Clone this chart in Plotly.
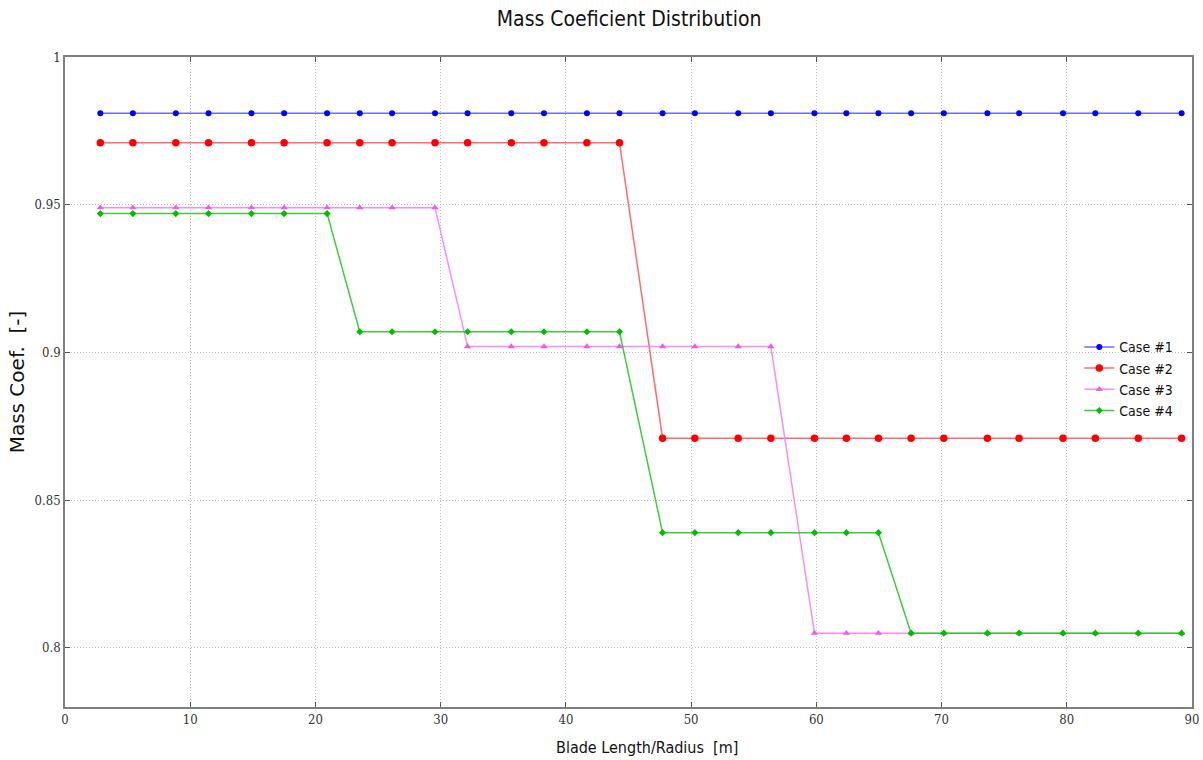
import plotly.graph_objects as go

# Blade stations [m]
radius = [2.82, 5.42, 8.85, 11.46, 14.89, 17.50, 20.93, 23.54, 26.12, 29.55,
          32.15, 35.64, 38.25, 41.68, 44.28, 47.72, 50.30, 53.76, 56.37, 59.85,
          62.40, 64.96, 67.57, 70.18, 73.66, 76.19, 79.70, 82.28, 85.71, 89.17]

case1 = [0.981] * 30
case2 = [0.971] * 15 + [0.871] * 15
case3 = [0.949] * 10 + [0.902] * 9 + [0.805] * 11
case4 = [0.947] * 7 + [0.907] * 8 + [0.839] * 7 + [0.805] * 8

series = [
    ("Case #1", case1, "rgb(0,0,255)", "rgba(70,70,255,0.8)", "circle", 6),
    ("Case #2", case2, "rgb(255,0,0)", "rgba(255,70,70,0.8)", "circle", 7.5),
    ("Case #3", case3, "rgb(238,90,238)", "rgba(245,130,245,0.9)", "triangle-up", 6.5),
    ("Case #4", case4, "rgb(0,190,0)", "rgba(40,200,40,0.9)", "diamond", 5.5),
]

x_ticks = [0, 10, 20, 30, 40, 50, 60, 70, 80, 90]
y_ticks = [0.8, 0.85, 0.9, 0.95, 1.0]
y_labels = ["0.8", "0.85", "0.9", "0.95", "1"]

fig = go.Figure()
for name, vals, mcol, lcol, sym, size in series:
    fig.add_trace(go.Scatter(
        x=radius, y=vals, name=name, mode="lines+markers",
        line=dict(color=lcol, width=1.5),
        marker=dict(color=mcol, symbol=sym, size=size, line=dict(width=0)),
    ))

cond = "DejaVu Sans Condensed, DejaVu Sans, sans-serif"
tickfont = dict(family="DejaVu Serif Condensed, DejaVu Serif, serif", size=13, color="#333333")
grid = dict(showgrid=True, gridcolor="#bdbdbd", griddash="1px,2px", gridwidth=1,
            showline=True, linecolor="#7f7f7f", linewidth=1.5, mirror="ticks",
            ticks="inside", ticklen=5, tickcolor="#555555",
            zeroline=False, tickfont=tickfont, automargin=False)

fig.update_layout(
    width=1203, height=760,
    margin=dict(l=65, r=11, t=57, b=53, autoexpand=False),
    paper_bgcolor="white", plot_bgcolor="white",
    title=dict(text="Mass Coeficient Distribution", x=0.523, xanchor="center",
               y=0.975, yanchor="middle",
               font=dict(family=cond, size=21, color="#111111")),
    showlegend=True,
    legend=dict(x=0.9, y=0.578, xanchor="left", yanchor="top",
                bgcolor="rgba(0,0,0,0)", tracegroupgap=0,
                font=dict(family=cond, size=14, color="#111111")),
    annotations=[dict(text="Blade Length/Radius  [m]", xref="paper", yref="paper",
                      x=0.516, y=-0.062, xanchor="center", yanchor="middle",
                      showarrow=False, font=dict(family=cond, size=16, color="#111111"))],
)

fig.update_xaxes(range=[0, 90], tickvals=x_ticks, ticktext=[str(v) for v in x_ticks], **grid)
fig.update_yaxes(
    range=[0.78, 1.0], tickvals=y_ticks, ticktext=y_labels,
    title=dict(text="Mass Coef.  [-]", standoff=5,
               font=dict(family="DejaVu Sans, sans-serif", size=20, color="#111111")),
    **grid,
)

fig.write_html("out.html", config={"displayModeBar": False})

# remove the default page margin so the figure sits at the window origin
with open("out.html", "r", encoding="utf-8") as f:
    html = f.read()
html = html.replace("<head>", "<head><style>body{margin:0;padding:0;}</style>", 1)
with open("out.html", "w", encoding="utf-8") as f:
    f.write(html)
